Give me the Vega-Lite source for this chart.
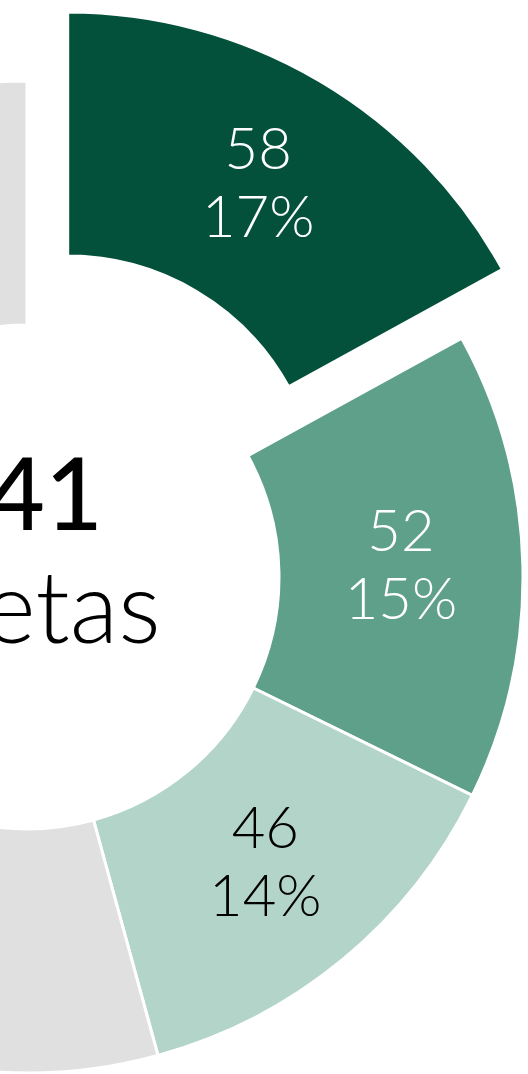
{
  "$schema": "https://vega.github.io/schema/vega-lite/v6.json",
  "width": 54,
  "height": 1154,
  "autosize": {"type": "none"},
  "padding": {"left": 0, "top": 0, "right": 474, "bottom": 0},
  "background": "white",
  "view": {"stroke": null},
  "config": {"font": "Lato"},
  "data": {
    "values": [
      {"cat": "A", "value": 58, "pct": "17%", "order": 1},
      {"cat": "B", "value": 52, "pct": "15%", "order": 2},
      {"cat": "C", "value": 46, "pct": "14%", "order": 3},
      {"cat": "Otros", "value": 185, "pct": "", "order": 4}
    ]
  },
  "transform": [
    {"stack": "value", "groupby": [], "sort": [{"field": "order", "order": "ascending"}], "as": ["t0", "t1"]},
    {"calculate": "(datum.t0 + datum.t1) / 2", "as": "tmid"},
    {"calculate": "datum.value + '\\n' + datum.pct", "as": "label"}
  ],
  "encoding": {
    "color": {
      "field": "cat",
      "type": "nominal",
      "scale": {"domain": ["A", "B", "C", "Otros"], "range": ["#03513A", "#5FA08A", "#B3D4C9", "#E0E0E0"]},
      "legend": null
    }
  },
  "layer": [
    {
      "transform": [{"filter": "datum.cat != 'A'"}],
      "mark": {"type": "arc", "outerRadius": 496, "innerRadius": 252, "stroke": "white", "strokeWidth": 3},
      "encoding": {
        "theta": {"field": "t0", "type": "quantitative", "stack": null, "scale": {"domain": [0, 341], "range": [0, 6.283185307179586]}},
        "theta2": {"field": "t1"}
      }
    },
    {
      "transform": [{"filter": "datum.cat == 'A'"}],
      "mark": {"type": "arc", "outerRadius": 496, "innerRadius": 252, "stroke": "white", "strokeWidth": 3, "xOffset": 40.7, "yOffset": -68.9},
      "encoding": {
        "theta": {"field": "t0", "type": "quantitative", "stack": null},
        "theta2": {"field": "t1"}
      }
    },
    {
      "transform": [{"filter": "datum.cat == 'A'"}],
      "mark": {"type": "text", "radius": 374, "xOffset": 40.7, "yOffset": -68.9, "dy": -34, "fontSize": 58, "fontWeight": 300, "lineBreak": "\n", "lineHeight": 68, "baseline": "middle", "align": "center"},
      "encoding": {
        "theta": {"field": "tmid", "type": "quantitative", "stack": null},
        "text": {"field": "label"},
        "color": {"value": "white"}
      }
    },
    {
      "transform": [{"filter": "datum.cat == 'B'"}],
      "mark": {"type": "text", "radius": 374, "dy": -34, "fontSize": 58, "fontWeight": 300, "lineBreak": "\n", "lineHeight": 68, "baseline": "middle", "align": "center"},
      "encoding": {
        "theta": {"field": "tmid", "type": "quantitative", "stack": null},
        "text": {"field": "label"},
        "color": {"value": "white"}
      }
    },
    {
      "transform": [{"filter": "datum.cat == 'C'"}],
      "mark": {"type": "text", "radius": 374, "dy": -34, "fontSize": 58, "fontWeight": 300, "lineBreak": "\n", "lineHeight": 68, "baseline": "middle", "align": "center"},
      "encoding": {
        "theta": {"field": "tmid", "type": "quantitative", "stack": null},
        "text": {"field": "label"},
        "color": {"value": "black"}
      }
    },
    {
      "data": {"values": [{"total": "341"}]},
      "mark": {"type": "text", "fontSize": 100, "fontWeight": 500, "baseline": "alphabetic", "align": "center", "dy": -47, "dx": -11},
      "encoding": {
        "text": {"field": "total"},
        "color": {"value": "black"}
      }
    },
    {
      "data": {"values": [{"unit": "tarjetas"}]},
      "mark": {"type": "text", "fontSize": 100, "fontWeight": 300, "baseline": "alphabetic", "align": "center", "dy": 66, "dx": -25},
      "encoding": {
        "text": {"field": "unit"},
        "color": {"value": "black"}
      }
    }
  ]
}
